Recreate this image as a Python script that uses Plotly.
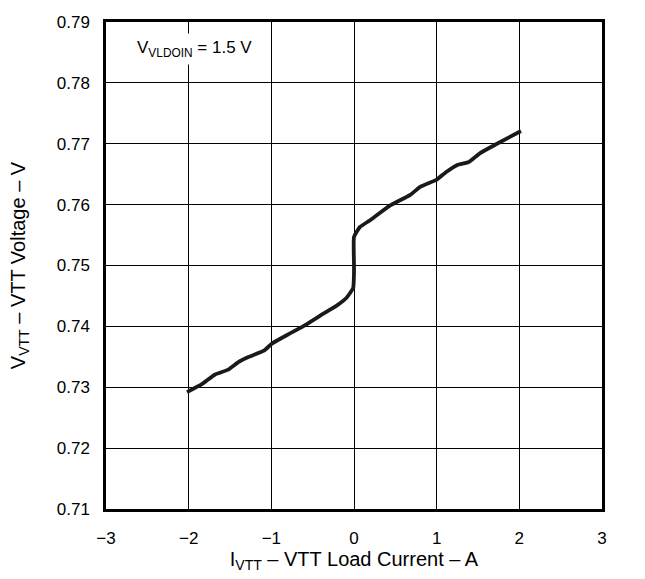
import plotly.graph_objects as go

# Load current (A) and VTT voltage (V)
current_a = [-2.02, -1.84, -1.68, -1.52, -1.39, -1.27, -1.09, -0.99, -0.78, -0.58,
             -0.38, -0.21, -0.09, -0.01, 0.0, 0.0, 0.0, 0.07, 0.19, 0.43, 0.68,
             0.80, 1.0, 1.12, 1.25, 1.39, 1.53, 1.73, 2.02]
vtt_v = [0.7292, 0.7305, 0.7321, 0.7329, 0.7342, 0.7350, 0.7360, 0.7372, 0.7388, 0.7403,
         0.7420, 0.7434, 0.7447, 0.7463, 0.7488, 0.7501, 0.7547, 0.7563, 0.7574, 0.7598, 0.7616,
         0.7629, 0.7641, 0.7654, 0.7665, 0.7670, 0.7685, 0.7700, 0.7721]

x_ticks = [-3, -2, -1, 0, 1, 2, 3]
x_tick_text = ["\u22123", "\u22122", "\u22121", "0", "1", "2", "3"]
y_ticks = [0.71, 0.72, 0.73, 0.74, 0.75, 0.76, 0.77, 0.78, 0.79]
y_tick_text = ["%.2f" % v for v in y_ticks]

fig = go.Figure()
fig.add_trace(go.Scatter(x=current_a, y=vtt_v, mode="lines",
                         line=dict(color="#1a1a1a", width=3.8, shape="spline", smoothing=0.4),
                         showlegend=False))

fig.add_annotation(x=-2.69, y=0.7855, xref="x", yref="y", xanchor="left", yanchor="middle",
                   text="V<sub>VLDOIN</sub> = 1.5 V", showarrow=False,
                   bgcolor="white", font=dict(size=17, color="black"), borderpad=4)

font = dict(family="Liberation Sans, Arial, sans-serif", size=17, color="black")
fig.update_layout(
    width=645, height=579,
    margin=dict(l=106, r=43, t=22, b=61),
    paper_bgcolor="white", plot_bgcolor="white",
    font=font,
    xaxis=dict(range=[-3, 3], tickvals=x_ticks, ticktext=x_tick_text,
               showgrid=True, gridcolor="black", gridwidth=1, zeroline=False,
               showline=True, linecolor="black", linewidth=2.5, mirror=True,
               ticks="", ticklabelstandoff=12,
               title=dict(text="I<sub>VTT</sub> \u2013 VTT Load Current \u2013 A", standoff=5)),
    yaxis=dict(range=[0.71, 0.79], tickvals=y_ticks, ticktext=y_tick_text,
               showgrid=True, gridcolor="black", gridwidth=1, zeroline=False,
               showline=True, linecolor="black", linewidth=2.5, mirror=True,
               ticks="", ticklabelstandoff=10,
               title=dict(text="V<sub>VTT</sub> \u2013 VTT Voltage \u2013 V", standoff=26)),
)

fig.write_html("out.html", config={"displayModeBar": False},
               post_script="document.body.style.margin='0';")
